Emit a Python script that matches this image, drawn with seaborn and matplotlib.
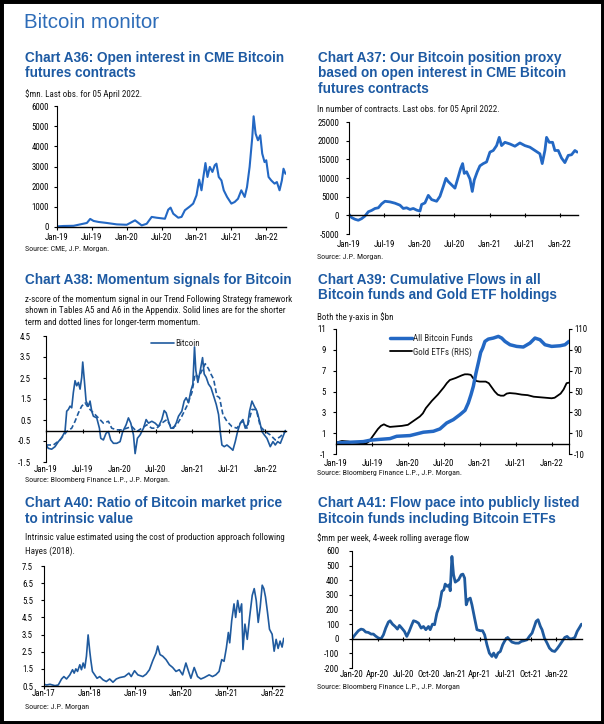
import matplotlib
matplotlib.use("Agg")
import matplotlib.pyplot as plt
import seaborn as sns
from matplotlib import font_manager
from matplotlib.patches import Rectangle
from matplotlib.lines import Line2D

# ---------------- data (x = months since first tick) ----------------
a36_month = [0, 1.14, 2.86, 4.0, 5.14, 5.71, 6.29, 7.14, 8.57, 10.29, 12.0, 13.43, 14.57, 15.43, 16.29,
             17.14, 18.57, 19.14, 19.54, 20.0, 20.86, 21.43, 22.0, 22.86, 23.43, 24.0, 24.46, 24.86, 25.14,
             25.54, 25.89, 26.29, 26.74, 27.14, 27.43, 27.83, 28.29, 28.69, 29.26, 30.0, 30.57, 31.14, 31.71,
             32.29, 32.69, 33.14, 33.6, 33.83, 34.17, 34.57, 34.97, 35.31, 35.71, 36.0, 36.4, 36.86, 37.43,
             37.83, 38.29, 38.69, 38.97, 39.31]
a36_oi = [30, 50, 60, 130, 200, 400, 300, 250, 200, 130, 110, 330, 80, 160, 500, 460, 410, 860, 960, 660,
          460, 500, 830, 1020, 1160, 1570, 2350, 1820, 2400, 3170, 2480, 2980, 2730, 3060, 3140, 2480, 2310,
          1820, 1490, 1160, 1240, 1400, 1820, 1490, 1980, 2980, 4460, 5490, 4630, 4300, 4550, 3640, 3220,
          3310, 2480, 2310, 2150, 2230, 1820, 2310, 2890, 2640]

a37_month = [0, 0.46, 1.02, 1.59, 2.16, 2.73, 3.30, 3.87, 4.44, 5.01, 5.57, 6.14, 7.0, 7.85, 8.70, 9.27,
             9.84, 10.41, 10.98, 11.55, 12.12, 12.40, 12.97, 13.54, 14.11, 14.96, 15.53, 16.10, 16.55, 16.95,
             17.52, 18.09, 18.66, 19.06, 19.40, 19.68, 20.08, 20.65, 21.05, 21.39, 21.90, 22.35, 22.92, 23.49,
             24.06, 24.63, 25.20, 25.65, 26.05, 26.62, 27.47, 28.33, 29.18, 30.03, 30.89, 31.74, 32.59, 32.99,
             33.45, 33.73, 34.19, 34.76, 35.15, 35.72, 36.29, 36.86, 37.43, 38.0, 38.57, 38.97]
a37_proxy = [260, -610, -1050, -1320, -880, -180, 960, 1320, 1840, 2020, 3070, 3770, 3600, 3250, 2720, 1840,
             2020, 1580, 1840, 1400, 1140, 2900, 3330, 5350, 4210, 3770, 5090, 7720, 9910, 9040, 8160, 7280,
             10350, 12540, 13860, 11230, 11670, 9740, 6400, 9470, 11670, 13250, 13860, 14300, 16930, 17370,
             18680, 20880, 18680, 19560, 19120, 18510, 19390, 18680, 18250, 17370, 16490, 13860, 17370, 20880,
             19560, 19560, 17370, 17370, 15350, 14120, 16050, 16230, 17370, 16930]

a38_month_short = [0, 0.38, 0.93, 1.48, 2.03, 2.58, 3.12, 3.40, 3.67, 3.95, 4.22, 4.49, 4.77, 5.04, 5.32,
                   5.59, 5.86, 6.03, 6.30, 6.58, 6.96, 7.23, 7.51, 7.78, 8.33, 8.77, 8.99, 9.42, 9.86, 10.25,
                   10.63, 11.07, 11.62, 12.16, 12.60, 13.15, 13.53, 13.92, 14.36, 14.63, 15.01, 15.45, 16.0,
                   16.44, 16.82, 17.37, 17.92, 18.47, 19.01, 19.40, 19.73, 20.11, 20.49, 20.93, 21.37, 21.75,
                   22.30, 22.68, 23.01, 23.40, 23.78, 24.11, 24.38, 24.60, 24.93, 25.32, 25.70, 25.97, 26.30,
                   26.68, 27.07, 27.51, 27.95, 28.33, 28.60, 28.88, 29.26, 29.70, 30.25, 30.68, 31.07, 31.45,
                   31.89, 32.33, 32.71, 33.10, 33.42, 33.81, 34.19, 34.63, 35.07, 35.45, 35.84, 36.27, 36.82,
                   37.26, 37.64, 38.03, 38.47, 38.90, 39.29]
a38_short = [-0.69, -0.85, -0.89, -0.77, -0.53, -0.34, -0.05, 0.92, 1.0, 1.16, 1.08, 1.81, 2.37, 2.13, 2.29,
             1.97, 2.53, 3.26, 2.37, 1.40, 1.16, 1.40, 0.92, 0.68, 0.60, 0.11, -0.37, -0.45, -0.13, -0.05,
             -0.45, -0.61, -0.61, -0.53, -0.05, 0.27, 0.6, 0.35, -0.21, -1.10, -0.37, -0.21, 0.11, 0.52, 0.35,
             0.44, 0.35, 0.19, 0.52, 0.95, 0.84, 0.44, 0.11, 0.11, 0.35, 0.68, 0.92, 1.40, 1.56, 1.32, 1.89,
             2.21, 3.98, 2.85, 2.29, 2.85, 3.47, 2.69, 2.53, 2.21, 2.05, 1.65, 1.24, 0.76, -0.05, -0.69, -0.77,
             -0.69, -0.82, -0.94, -0.53, -0.05, 0.35, 0.52, 0.11, 0.27, 0.92, 1.40, 1.16, 0.92, 0.44, -0.05,
             -0.21, -0.37, -0.77, -0.53, -0.69, -0.53, -0.61, -0.29, 0.0]
a38_month_long = [0, 1.21, 2.30, 3.40, 4.22, 4.77, 5.32, 5.86, 6.41, 6.96, 7.78, 8.60, 9.42, 10.25, 10.79,
                  11.62, 12.44, 13.26, 14.08, 14.90, 15.73, 16.55, 17.37, 18.19, 19.01, 19.84, 20.66, 21.48,
                  22.30, 23.12, 23.95, 24.49, 25.04, 25.59, 26.14, 26.68, 27.07, 27.51, 28.05, 28.49, 29.04,
                  29.70, 30.52, 31.34, 32.16, 32.99, 33.81, 34.52, 35.18, 36.0, 36.82, 37.64, 38.47, 39.29]
a38_long = [-0.69, -0.69, -0.45, -0.05, 0.11, 0.44, 0.84, 1.16, 1.32, 1.08, 0.84, 0.6, 0.35, 0.44, 0.11, 0.03,
            0.03, 0.11, 0.19, -0.05, 0.11, 0.27, 0.11, 0.11, 0.35, 0.52, 0.11, 0.27, 0.68, 1.16, 1.81, 2.69,
            2.53, 2.85, 3.18, 2.94, 2.69, 2.45, 1.65, 1.56, 0.76, 0.44, 0.19, 0.11, 0.44, 0.11, 1.0, 1.0, 0.19,
            -0.05, -0.21, -0.45, -0.29, -0.05]

a39_month_btc = [0, 2.34, 4.56, 5.68, 6.79, 9.02, 10.13, 12.35, 13.47, 14.58, 16.25, 17.36, 18.48, 19.59,
                 20.70, 21.54, 22.09, 22.54, 22.93, 23.37, 23.82, 24.15, 24.49, 24.87, 25.43, 26.27, 27.10,
                 27.66, 28.21, 29.05, 30.16, 31.27, 32.39, 33.22, 34.06, 34.89, 36.0, 37.40, 38.23, 38.9]
a39_btc_funds = [0.06, 0.13, 0.19, 0.32, 0.38, 0.48, 0.70, 0.77, 0.93, 1.09, 1.18, 1.41, 1.98, 2.30, 2.78,
                 3.19, 3.90, 4.70, 5.50, 6.77, 7.89, 8.75, 9.17, 9.81, 10.03, 10.13, 10.29, 10.13, 9.81, 9.49,
                 9.33, 9.27, 9.65, 10.13, 9.97, 9.49, 9.33, 9.39, 9.49, 9.81]
a39_month_gold = [0, 1, 2, 3, 4, 5, 5.5, 6, 6.5, 7, 7.5, 8, 8.5, 9, 10, 11, 12, 13, 14, 14.5, 15, 16, 17, 18,
                  18.5, 19, 19.5, 20, 21, 21.5, 22, 22.5, 23, 23.5, 24, 25, 25.5, 26, 26.5, 27, 27.5, 28, 28.5,
                  29, 30, 31, 32, 33, 34, 35, 36, 36.5, 37, 37.5, 38, 38.5, 38.9]
a39_gold_etfs = [1, 2.5, 2, 1, 0.5, 0, 2, 6, 10, 14, 17, 18.5, 17, 16, 16.5, 17, 18, 22, 26, 29, 34, 41, 47,
                 54, 58, 61, 62, 63, 65.5, 66.5, 66.5, 66, 62, 60, 59.5, 59.5, 58, 54, 50, 47, 46, 46, 48, 48.5,
                 48, 47, 46.5, 45, 44.5, 44, 43.5, 44, 46, 48, 52, 58, 58.5]

a40_month = [0, 0.70, 1.57, 2.88, 3.75, 4.62, 5.23, 5.93, 6.80, 7.50, 7.93, 8.37, 8.81, 9.42, 9.85, 10.29,
             10.72, 11.16, 11.60, 12.03, 12.29, 12.73, 13.34, 13.95, 14.65, 15.52, 16.39, 17.26, 18.13, 19.01,
             19.88, 21.19, 22.32, 22.93, 23.80, 24.67, 25.98, 26.85, 27.72, 28.60, 29.47, 29.90, 30.51, 31.21,
             32.08, 32.96, 33.83, 34.70, 35.57, 36.44, 37.31, 38.01, 38.62, 39.49, 40.37, 41.24, 42.11, 43.42,
             44.29, 45.16, 46.03, 46.73, 47.34, 47.95, 48.47, 48.82, 49.35, 49.96, 50.39, 50.92, 51.44, 51.96,
             52.31, 52.83, 53.44, 54.05, 54.75, 55.27, 55.80, 56.32, 56.84, 57.37, 57.80, 58.24, 58.76, 59.29,
             59.98, 60.51, 61.03, 61.55, 62.07, 62.60, 63.03]
a40_ratio = [0.6, 0.56, 0.6, 0.52, 0.56, 0.91, 1.05, 0.91, 1.15, 1.45, 1.25, 1.5, 1.35, 1.74, 1.45, 1.84, 1.55,
             2.24, 3.48, 2.53, 2.04, 1.35, 1.15, 0.95, 1.05, 0.86, 0.76, 0.91, 0.72, 0.91, 0.99, 1.05, 1.25,
             1.05, 1.39, 1.15, 1.05, 1.19, 1.45, 1.98, 2.43, 2.83, 2.33, 2.24, 2.04, 1.74, 1.58, 1.35, 1.45,
             1.15, 1.84, 1.35, 0.95, 1.58, 1.05, 0.91, 0.99, 1.15, 1.05, 1.15, 1.35, 2.04, 1.94, 2.73, 3.62,
             3.02, 4.31, 5.29, 4.5, 5.49, 4.8, 5.29, 2.63, 4.11, 3.22, 4.5, 5.79, 6.18, 5.49, 4.21, 5.1, 6.38,
             6.18, 5.69, 4.8, 3.81, 3.52, 2.53, 3.22, 2.69, 3.12, 2.77, 3.28]

a41_month = [0, 0.35, 0.75, 1.06, 1.33, 1.61, 1.92, 2.24, 2.51, 2.78, 3.10, 3.41, 3.69, 3.96, 4.27, 4.47,
             4.75, 5.06, 5.33, 5.57, 5.84, 6.16, 6.43, 6.71, 7.02, 7.22, 7.49, 7.80, 8.12, 8.39, 8.67, 8.98,
             9.18, 9.45, 9.69, 9.96, 10.24, 10.55, 10.78, 10.94, 11.18, 11.41, 11.53, 11.73, 11.92, 12.12,
             12.51, 12.82, 13.02, 13.22, 13.41, 13.61, 13.88, 14.08, 14.39, 14.67, 15.06, 15.33, 15.57, 15.84,
             16.12, 16.43, 16.63, 16.90, 17.14, 17.41, 17.69, 18.0, 18.27, 18.51, 18.78, 19.18, 19.57, 19.88,
             20.16, 20.55, 20.82, 21.14, 21.41, 21.61, 21.84, 22.12, 22.31, 22.59, 22.90, 23.18, 23.49, 23.80,
             24.08, 24.35, 24.67, 24.98, 25.25, 25.53, 25.84, 26.16, 26.43, 26.71, 26.94]
a41_flow = [0, 27, 55, 66, 62, 46, 43, 32, 32, 18, 5, 0, 27, 73, 114, 123, 100, 84, 66, 91, 73, 50, 16, 50, 96,
            123, 118, 107, 73, 84, 62, 84, 62, 100, 96, 175, 221, 324, 335, 374, 358, 369, 328, 563, 438, 387,
            403, 438, 442, 415, 232, 267, 278, 232, 141, 62, 55, 55, 27, -41, -98, -121, -98, -128, -98, -87,
            -41, -7, 9, -7, -23, -30, -30, -18, -14, -7, 16, 39, 84, 119, 130, 84, 62, 5, -30, -64, -82, -87,
            -68, -46, -18, 9, 16, 0, 0, 9, 50, 77, 100]

ticks_19_22 = [0, 6, 12, 18, 24, 30, 36]
labels_19_22 = ["Jan-19", "Jul-19", "Jan-20", "Jul-20", "Jan-21", "Jul-21", "Jan-22"]
ticks_17_22 = [0, 12, 24, 36, 48, 60]
labels_17_22 = ["Jan-17", "Jan-18", "Jan-19", "Jan-20", "Jan-21", "Jan-22"]
ticks_20_22 = [0, 3, 6, 9, 12, 15, 18, 21, 24]
labels_20_22 = ["Jan-20", "Apr-20", "Jul-20", "Oct-20", "Jan-21", "Apr-21", "Jul-21", "Oct-21", "Jan-22"]

a36_yticks = [0, 1000, 2000, 3000, 4000, 5000, 6000]
a37_yticks = [-5000, 0, 5000, 10000, 15000, 20000, 25000]
a38_yticks = [-1.5, -0.5, 0.5, 1.5, 2.5, 3.5, 4.5]
a39_yticks = [-1, 1, 3, 5, 7, 9, 11]
a39_yticks_rhs = [-10, 10, 30, 50, 70, 90, 110]
a40_yticks = [0.5, 1.5, 2.5, 3.5, 4.5, 5.5, 6.5, 7.5]
a41_yticks = [-200, -100, 0, 100, 200, 300, 400, 500, 600]

# ---------------- style ----------------
sns.set_theme(style="white")
names = {f.name for f in font_manager.fontManager.ttflist}
NARROW = "Roboto Condensed" if "Roboto Condensed" in names else "Liberation Sans"
K = 1.0 if NARROW == "Roboto Condensed" else 0.84
plt.rcParams["font.family"] = [NARROW, "DejaVu Sans"]

W, H = 604, 724
fig = plt.figure(figsize=(W / 100, H / 100), dpi=100)
fig.patch.set_facecolor("white")

TITLE_BLUE = "#1d5aa3"
HEAD_BLUE = "#2d6cb8"
LINE_BRIGHT = "#2368c4"
LINE_DARK = "#1f5a9e"
TXT = "#1a1a1a"


def px2pt(p):
    return p * 0.72


TICK_FS = px2pt(8.8) * K
SUB_FS = px2pt(9.0) * K
SRC_FS = px2pt(8.0) * K
LEG_FS = px2pt(9.0) * K
TITLE_FS = px2pt(13.6)
BF = ["Liberation Sans", "DejaVu Sans"]


def ftext(x, y, s, size, color=TXT, weight="normal", family=None):
    kw = {}
    if family:
        kw["family"] = family
    fig.text(x / W, 1 - y / H, s, fontsize=size, color=color, fontweight=weight,
             ha="left", va="center", **kw)


def make_axes(left, top, right, bottom):
    return fig.add_axes([left / W, 1 - bottom / H, (right - left) / W, (bottom - top) / H])


def style(ax, xlim, ylim, xticks, xlabels, yticks, ylabels, ygap, xgap, zero):
    ax.set_xlim(*xlim)
    ax.set_ylim(*ylim)
    ax.set_xlabel("")
    ax.set_ylabel("")
    ax.set_facecolor("white")
    for s in ["top", "right"]:
        ax.spines[s].set_visible(False)
    ax.spines["left"].set_color("black")
    ax.spines["left"].set_linewidth(0.8)
    ax.spines["bottom"].set_color("black")
    ax.spines["bottom"].set_linewidth(1.0)
    ax.set_yticks(yticks)
    ax.set_yticklabels(ylabels)
    ax.tick_params(axis="y", left=True, direction="out", length=2.5, width=0.8,
                   pad=px2pt(ygap - 3.5), labelsize=TICK_FS, colors="black")
    ax.set_xticks(xticks)
    if zero:
        ax.spines["bottom"].set_position(("data", 0))
        ax.tick_params(axis="x", bottom=True, direction="inout", length=3.5, width=0.8,
                       labelbottom=False, colors="black")
        sec = ax.secondary_xaxis("bottom")
        sec.set_xticks(xticks)
        sec.set_xticklabels(xlabels)
        sec.spines["bottom"].set_visible(False)
        sec.tick_params(axis="x", length=0, pad=px2pt(xgap), labelsize=TICK_FS, colors="black")
    else:
        ax.set_xticklabels(xlabels)
        ax.tick_params(axis="x", bottom=True, direction="out", length=2.5, width=0.8,
                       pad=px2pt(xgap), labelsize=TICK_FS, colors="black")
    ax.grid(False)


# ---------------- header ----------------
ftext(24, 22, "Bitcoin monitor", px2pt(20.5), color=HEAD_BLUE, family=BF)

# ---------------- A36 ----------------
ftext(25, 58, "Chart A36: Open interest in CME Bitcoin", TITLE_FS, TITLE_BLUE, "bold", BF)
ftext(25, 73, "futures contracts", TITLE_FS, TITLE_BLUE, "bold", BF)
ftext(25, 94, "$mn. Last obs. for 05 April 2022.", SUB_FS)
ftext(25, 249, "Source: CME, J.P. Morgan.", SRC_FS)
ax = make_axes(57, 106, 286, 227)
sns.lineplot(x=a36_month, y=a36_oi, ax=ax, color=LINE_BRIGHT, linewidth=1.5)
style(ax, (0, 39.4), (0, 6000), ticks_19_22, labels_19_22, a36_yticks,
      [str(v) for v in a36_yticks], 8, 2.5, False)

# ---------------- A37 ----------------
ftext(318, 58, "Chart A37: Our Bitcoin position proxy", TITLE_FS, TITLE_BLUE, "bold", BF)
ftext(318, 73, "based on open interest in CME Bitcoin", TITLE_FS, TITLE_BLUE, "bold", BF)
ftext(318, 89, "futures contracts", TITLE_FS, TITLE_BLUE, "bold", BF)
ftext(317, 110, "In number of contracts. Last obs. for 05 April 2022.", SUB_FS)
ftext(317, 257, "Source: J.P. Morgan.", SRC_FS)
ax = make_axes(349, 122, 578, 234)
sns.lineplot(x=a37_month, y=a37_proxy, ax=ax, color=LINE_BRIGHT, linewidth=2.0)
style(ax, (0, 39.1), (-5000, 25000), ticks_19_22, labels_19_22, a37_yticks,
      [str(v) for v in a37_yticks], 10, 6, True)

# ---------------- A38 ----------------
ftext(25, 280, "Chart A38: Momentum signals for Bitcoin", TITLE_FS, TITLE_BLUE, "bold", BF)
ftext(25, 299, "z-score of the momentum signal in our Trend Following Strategy framework", SUB_FS)
ftext(25, 311, "shown in Tables A5 and A6 in the Appendix. Solid lines are for the shorter", SUB_FS)
ftext(25, 322.5, "term and dotted lines for longer-term momentum.", SUB_FS)
ftext(25, 480, "Source: Bloomberg Finance L.P., J.P. Morgan.", SRC_FS)
ax = make_axes(46, 336, 286, 462)
sns.lineplot(x=a38_month_long, y=a38_long, ax=ax, color=LINE_DARK, linewidth=1.2,
             linestyle=(0, (3, 1.6)))
sns.lineplot(x=a38_month_short, y=a38_short, ax=ax, color=LINE_DARK, linewidth=1.2)
style(ax, (0, 39.4), (-1.5, 4.5), ticks_19_22, labels_19_22, a38_yticks,
      [f"{v:.1f}" for v in a38_yticks], 15, 3, True)
h = Line2D([], [], color=LINE_DARK, linewidth=1.2)
ax.legend([h], ["Bitcoin"], loc="center left", bbox_to_anchor=(151 / W, 1 - 344 / H),
          bbox_transform=fig.transFigure, frameon=False, fontsize=LEG_FS,
          handlelength=2.5, handletextpad=0.15, borderpad=0, borderaxespad=0)

# ---------------- A39 ----------------
ftext(318, 280, "Chart A39: Cumulative Flows in all", TITLE_FS, TITLE_BLUE, "bold", BF)
ftext(318, 295, "Bitcoin funds and Gold ETF holdings", TITLE_FS, TITLE_BLUE, "bold", BF)
ftext(317, 317, "Both the y-axis in $bn", SUB_FS)
ftext(317, 473, "Source: Bloomberg Finance L.P., J.P. Morgan.", SRC_FS)
ax = make_axes(336, 329, 569, 454)
ax2 = ax.twinx()
sns.lineplot(x=a39_month_gold, y=a39_gold_etfs, ax=ax2, color="black", linewidth=1.3)
sns.lineplot(x=a39_month_btc, y=a39_btc_funds, ax=ax, color=LINE_BRIGHT, linewidth=2.5)
ax.set_zorder(ax2.get_zorder() + 1)
ax.patch.set_visible(False)
style(ax, (0, 38.9), (-1, 11), ticks_19_22, labels_19_22, a39_yticks,
      [str(v) for v in a39_yticks], 10, 5, True)
ax2.set_ylim(-10, 110)
ax2.set_yticks(a39_yticks_rhs)
ax2.set_yticklabels([str(v) for v in a39_yticks_rhs])
ax2.set_ylabel("")
for s in ["top", "left", "bottom"]:
    ax2.spines[s].set_visible(False)
ax2.spines["right"].set_color("black")
ax2.spines["right"].set_linewidth(0.8)
ax2.tick_params(axis="y", right=True, direction="out", length=2.5, width=0.8,
                pad=px2pt(1.5), labelsize=TICK_FS, colors="black")
ax2.grid(False)
hb = Line2D([], [], color=LINE_BRIGHT, linewidth=2.5)
hg = Line2D([], [], color="black", linewidth=1.3)
ax.legend([hb, hg], ["All Bitcoin Funds", "Gold ETFs (RHS)"], loc="center left",
          bbox_to_anchor=(390 / W, 1 - 345.5 / H), bbox_transform=fig.transFigure,
          frameon=False, fontsize=LEG_FS, handlelength=2.4, handletextpad=0.15,
          labelspacing=0.4, borderpad=0, borderaxespad=0)

# ---------------- A40 ----------------
ftext(25, 503, "Chart A40: Ratio of Bitcoin market price", TITLE_FS, TITLE_BLUE, "bold", BF)
ftext(25, 519, "to intrinsic value", TITLE_FS, TITLE_BLUE, "bold", BF)
ftext(25, 538, "Intrinsic value estimated using the cost of production approach following", SUB_FS)
ftext(25, 551.5, "Hayes (2018).", SUB_FS)
ftext(25, 707, "Source: J.P. Morgan", SRC_FS)
ax = make_axes(44, 566, 284, 686)
sns.lineplot(x=a40_month, y=a40_ratio, ax=ax, color=LINE_DARK, linewidth=1.2)
style(ax, (0, 63.1), (0.5, 7.5), ticks_17_22, labels_17_22, a40_yticks,
      [f"{v:.1f}" for v in a40_yticks], 11, 0, False)

# ---------------- A41 ----------------
ftext(318, 503, "Chart A41: Flow pace into publicly listed", TITLE_FS, TITLE_BLUE, "bold", BF)
ftext(318, 519, "Bitcoin funds including Bitcoin ETFs", TITLE_FS, TITLE_BLUE, "bold", BF)
ftext(317, 538, "$mm per week, 4-week rolling average flow", SUB_FS)
ftext(317, 687, "Source: Bloomberg Finance L.P., J.P. Morgan", SRC_FS)
ax = make_axes(352, 551, 582, 668)
sns.lineplot(x=a41_month, y=a41_flow, ax=ax, color=LINE_DARK, linewidth=2.0)
style(ax, (0, 27.0), (-200, 600), ticks_20_22, labels_20_22, a41_yticks,
      [str(v) for v in a41_yticks], 13, 2, True)

# ---------------- frame ----------------
fig.patches.append(Rectangle((0, 0), 1, 1, transform=fig.transFigure, fill=False,
                             edgecolor="black", linewidth=5, zorder=10))

fig.savefig("out.png", dpi=100, facecolor="white")
